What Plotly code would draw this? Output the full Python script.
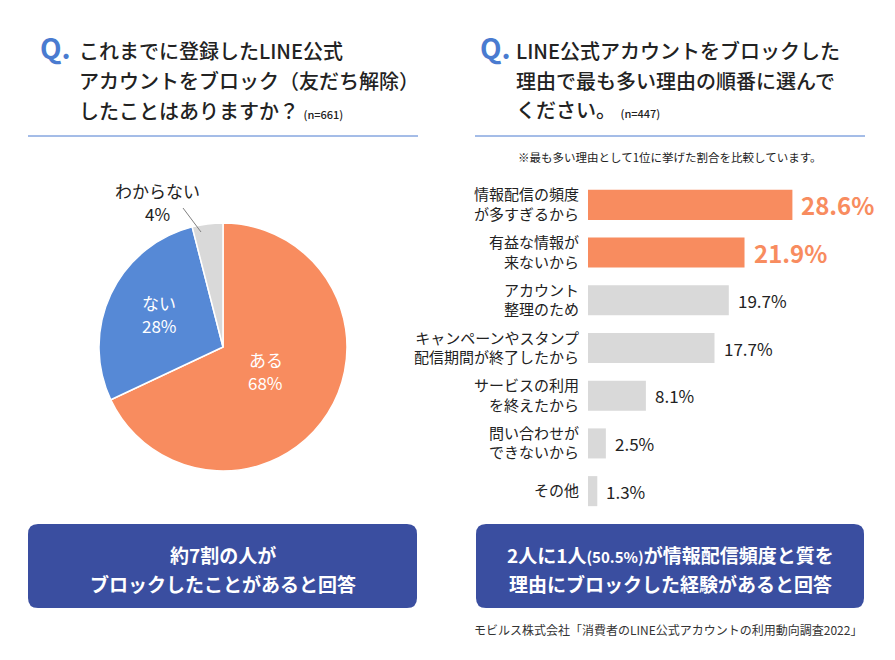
import math
import plotly.graph_objects as go

# ---------------- data ----------------
pie_labels = ["ある", "ない", "わからない"]
pie_values = [68, 28, 4]

bar_categories = [
    "情報配信の頻度<br>が多すぎるから",
    "有益な情報が<br>来ないから",
    "アカウント<br>整理のため",
    "キャンペーンやスタンプ<br>配信期間が終了したから",
    "サービスの利用<br>を終えたから",
    "問い合わせが<br>できないから",
    "その他",
]
bar_values = [28.6, 21.9, 19.7, 17.7, 8.1, 2.5, 1.3]
highlight_count = 2

left_title = ["これまでに登録したLINE公式", "アカウントをブロック（友だち解除）", "したことはありますか？"]
left_n = "(n=661)"
right_title = ["LINE公式アカウントをブロックした", "理由で最も多い理由の順番に選んで", "ください。"]
right_n = "(n=447)"
note_text = "※最も多い理由として1位に挙げた割合を比較しています。"
left_box = ["約7割の人が", "ブロックしたことがあると回答"]
right_box = ["2人に1人<span style='font-size:15px'>(50.5%)</span>が情報配信頻度と質を", "理由にブロックした経験があると回答"]
footer = "モビルス株式会社「消費者のLINE公式アカウントの利用動向調査2022」"

# ---------------- styles ----------------
W, H = 895, 660
FONT = "Noto Sans CJK JP"
ORANGE = "#F88C5F"
BLUE = "#5689D6"
GRAY = "#D9D9D9"
NAVY = "#3A4EA0"
QBLUE = "#4A7BD0"
TEXT = "#222222"

fig = go.Figure()

# pie
cx, cy, R = 223, 347, 124
fig.add_trace(go.Pie(
    labels=pie_labels, values=pie_values, sort=False, direction="clockwise", rotation=0,
    marker=dict(colors=[ORANGE, BLUE, GRAY], line=dict(color="white", width=1.5)),
    textinfo="none", hoverinfo="label+percent", showlegend=False,
    domain=dict(x=[(cx - R) / W, (cx + R) / W], y=[(H - cy - R) / H, (H - cy + R) / H]),
))

# bars
bar_colors = [ORANGE if i < highlight_count else GRAY for i in range(len(bar_values))]
fig.add_trace(go.Bar(
    x=bar_values, y=bar_categories, orientation="h", width=0.63,
    marker=dict(color=bar_colors, line=dict(width=0)),
    showlegend=False, xaxis="x", yaxis="y",
))

x0_px, x1_px = 588, 865
px_per = 7.147
fig.update_layout(
    width=W, height=H, margin=dict(l=0, r=0, t=0, b=0),
    paper_bgcolor="white", plot_bgcolor="rgba(0,0,0,0)",
    font=dict(family=FONT, color=TEXT),
    xaxis=dict(domain=[x0_px / W, x1_px / W], range=[0, (x1_px - x0_px) / px_per],
               visible=False, fixedrange=True),
    yaxis=dict(domain=[145 / H, 479 / H], autorange="reversed", showgrid=False,
               zeroline=False, showline=False, ticks="", ticklabelstandoff=8,
               tickfont=dict(size=15, color=TEXT, family=FONT), fixedrange=True),
    xaxis3=dict(domain=[0, 1], range=[0, W], visible=False, anchor="y3", fixedrange=True),
    yaxis3=dict(domain=[0, 1], range=[H, 0], visible=False, anchor="x3", fixedrange=True),
)
fig.add_trace(go.Scatter(x=[None], y=[None], xaxis="x3", yaxis="y3", showlegend=False, hoverinfo="skip"))

ann = []
shapes = []

# value labels
for i, (c, v) in enumerate(zip(bar_categories, bar_values)):
    hi = i < highlight_count
    ann.append(dict(x=v, y=c, xref="x", yref="y", text=f"{v:.1f}%", showarrow=False,
                    xanchor="left", xshift=7,
                    font=dict(size=24 if hi else 17, color=ORANGE if hi else TEXT,
                              family=FONT, weight="bold" if hi else "normal")))

# pie labels (name and percentage on two separate lines)
cum = 0
fracs = [0.41, 0.57, None]
pie_text_colors = ["white", "white", TEXT]
for i, (lab, v) in enumerate(zip(pie_labels, pie_values)):
    mid = (cum + v / 2) / sum(pie_values) * 2 * math.pi
    cum += v
    if fracs[i] is not None:
        lx = cx + fracs[i] * R * math.sin(mid)
        ly = cy - fracs[i] * R * math.cos(mid) - 3
    else:
        lx, ly = 157, 202
    for txt, dy in [(lab, -11.5), (f"{v}%", 11.5)]:
        ann.append(dict(x=lx, y=ly + dy, xref="x3", yref="y3", text=txt, showarrow=False,
                        xanchor="center", yanchor="middle",
                        font=dict(size=17, color=pie_text_colors[i], family=FONT)))
shapes.append(dict(type="line", xref="x3", yref="y3", x0=183, y0=208, x1=201, y1=232,
                   line=dict(color="#808080", width=1)))

# titles
def title_block(qx, tx, lines, nstr, ys):
    ann.append(dict(x=qx, y=47, xref="x3", yref="y3", text="<b>Q.</b>", showarrow=False,
                    xanchor="left", yanchor="middle", font=dict(size=28, color=QBLUE, family=FONT)))
    for k, (ln, y) in enumerate(zip(lines, ys)):
        t = ln
        if k == len(lines) - 1:
            t = ln + f" <span style='font-size:11px'>{nstr}</span>"
        ann.append(dict(x=tx, y=y, xref="x3", yref="y3", text=t, showarrow=False,
                        xanchor="left", yanchor="middle",
                        font=dict(size=20, color=TEXT, family=FONT, weight=500)))

title_block(38, 77, left_title, left_n, [50, 80.5, 110])
title_block(478, 514, right_title, right_n, [50, 80.5, 109])

shapes.append(dict(type="line", xref="x3", yref="y3", x0=28, x1=418, y0=136, y1=136,
                   line=dict(color=QBLUE, width=1)))
shapes.append(dict(type="line", xref="x3", yref="y3", x0=475, x1=865, y0=136, y1=136,
                   line=dict(color=QBLUE, width=1)))

ann.append(dict(x=670, y=157, xref="x3", yref="y3", text=note_text, showarrow=False,
                xanchor="center", yanchor="middle", font=dict(size=11.5, color=TEXT, family=FONT)))

# boxes
def rounded(x0, y0, x1, y1, r):
    return (f"M{x0+r},{y0} L{x1-r},{y0} Q{x1},{y0} {x1},{y0+r} L{x1},{y1-r} Q{x1},{y1} {x1-r},{y1} "
            f"L{x0+r},{y1} Q{x0},{y1} {x0},{y1-r} L{x0},{y0+r} Q{x0},{y0} {x0+r},{y0} Z")

for (bx0, bx1), lines in [((28, 417), left_box), ((476, 864), right_box)]:
    shapes.append(dict(type="path", xref="x3", yref="y3", path=rounded(bx0, 524, bx1, 608, 10),
                       fillcolor=NAVY, line=dict(width=0), layer="below"))
    for ln, y in zip(lines, [554, 583]):
        ann.append(dict(x=(bx0 + bx1) / 2, y=y, xref="x3", yref="y3", text=ln, showarrow=False,
                        xanchor="center", yanchor="middle",
                        font=dict(size=19, color="white", family=FONT, weight="bold")))

ann.append(dict(x=864, y=629, xref="x3", yref="y3", text=footer, showarrow=False,
                xanchor="right", yanchor="middle", font=dict(size=12, color="#333333", family=FONT)))

fig.update_layout(annotations=ann, shapes=shapes)
fig.write_html("out.html", config={"displayModeBar": False},
               post_script="document.body.style.margin='0';document.body.style.overflow='hidden';")
